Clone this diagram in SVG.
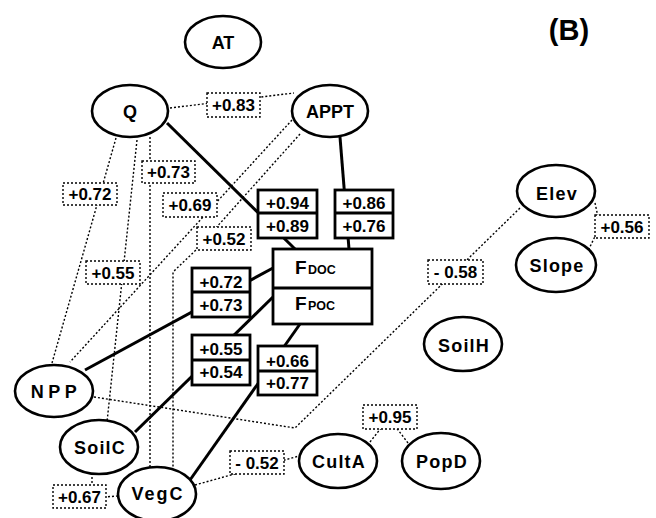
<svg xmlns="http://www.w3.org/2000/svg" width="656" height="518" viewBox="0 0 656 518">
<style>
.bg{fill:#fff}
.el{fill:#fff;stroke:#000;stroke-width:2.6}
.nt{font-family:"Liberation Sans",Arial,sans-serif;font-weight:bold;font-size:18px;text-anchor:middle;fill:#000}
.sol{stroke:#000;stroke-width:3;fill:none}
.dot{stroke:#000;stroke-width:1.4;stroke-dasharray:2 2;fill:none}
.lb{fill:#fff;stroke:#000;stroke-width:1.4;stroke-dasharray:2 2}
.bx{fill:#fff;stroke:#000;stroke-width:2.8}
.lt{font-family:"Liberation Sans",Arial,sans-serif;font-weight:bold;font-size:17px;text-anchor:middle;fill:#000}
.ft{font-family:"Liberation Sans",Arial,sans-serif;font-weight:bold;fill:#000}
</style>
<rect class="bg" x="0" y="0" width="656" height="518"/>
<text class="ft" x="569" y="40" font-size="29" text-anchor="middle">(B)</text>

<g id="connectors">
  <line class="dot" x1="170" y1="108" x2="294" y2="93"/>
  <line class="dot" x1="116" y1="138" x2="52" y2="363"/>
  <line class="dot" x1="137" y1="140" x2="107" y2="422"/>
  <line class="dot" x1="150" y1="137" x2="150" y2="468"/>
  <line class="dot" x1="292" y1="120" x2="70" y2="362"/>
  <polyline class="dot" points="300,134 197,249 173,272 173,468"/>
  <polyline class="dot" points="94,397 295,428 520,208"/>
  <polyline class="dot" points="595,203 600,226 587,253"/>
  <line class="dot" x1="195" y1="485" x2="299" y2="456"/>
  <polyline class="dot" points="370,442 389,418 408,443"/>
  <line class="dot" x1="92" y1="473" x2="92" y2="486"/>
  <line class="dot" x1="104" y1="497" x2="118" y2="496"/>
  <line class="sol" x1="167" y1="123" x2="295" y2="249"/>
  <line class="sol" x1="340" y1="137" x2="349" y2="249"/>
  <line class="sol" x1="85" y1="370" x2="273" y2="268"/>
  <line class="sol" x1="135" y1="432" x2="274" y2="296"/>
  <line class="sol" x1="190" y1="480" x2="300" y2="324"/>
</g>

<g id="edge-labels">
  <g id="l-q-appt"><rect class="lb" x="207" y="93" width="53" height="24"/><text class="lt" x="233.5" y="111">+0.83</text></g>
  <g id="l-q-npp"><rect class="lb" x="63" y="183" width="54" height="22"/><text class="lt" x="90" y="200">+0.72</text></g>
  <g id="l-q-vegc"><rect class="lb" x="142" y="161" width="53" height="22"/><text class="lt" x="168.5" y="178">+0.73</text></g>
  <g id="l-appt-npp"><rect class="lb" x="163" y="193" width="54" height="24"/><text class="lt" x="190" y="211">+0.69</text></g>
  <g id="l-appt-vegc"><rect class="lb" x="197" y="227" width="54" height="23"/><text class="lt" x="224" y="245">+0.52</text></g>
  <g id="l-q-soilc"><rect class="lb" x="86" y="261" width="54" height="23"/><text class="lt" x="113" y="279">+0.55</text></g>
  <g id="l-elev-slope"><rect class="lb" x="595" y="215" width="54" height="23"/><text class="lt" x="622" y="233">+0.56</text></g>
  <g id="l-npp-elev"><rect class="lb" x="428" y="260" width="55" height="24"/><text class="lt" x="455.5" y="278">- 0.58</text></g>
  <g id="l-culta-popd"><rect class="lb" x="363" y="405" width="54" height="24"/><text class="lt" x="390" y="423">+0.95</text></g>
  <g id="l-vegc-culta"><rect class="lb" x="230" y="451" width="54" height="23"/><text class="lt" x="257" y="469">- 0.52</text></g>
  <g id="l-soilc-vegc"><rect class="lb" x="53" y="485" width="53" height="23"/><text class="lt" x="79.5" y="503">+0.67</text></g>

  <g id="b-q"><rect class="bx" x="258" y="190" width="59" height="48"/><line class="bx" x1="258" y1="213" x2="317" y2="213"/><text class="lt" x="287.5" y="209">+0.94</text><text class="lt" x="287.5" y="232">+0.89</text></g>
  <g id="b-appt"><rect class="bx" x="335" y="190" width="58" height="48"/><line class="bx" x1="335" y1="213" x2="393" y2="213"/><text class="lt" x="364" y="209">+0.86</text><text class="lt" x="364" y="232">+0.76</text></g>
  <g id="b-npp"><rect class="bx" x="192" y="268" width="58" height="49"/><line class="bx" x1="192" y1="292" x2="250" y2="292"/><text class="lt" x="221" y="288">+0.72</text><text class="lt" x="221" y="311">+0.73</text></g>
  <g id="b-soilc"><rect class="bx" x="192" y="335" width="58" height="50"/><line class="bx" x1="192" y1="360" x2="250" y2="360"/><text class="lt" x="221" y="355">+0.55</text><text class="lt" x="221" y="378">+0.54</text></g>
  <g id="b-vegc"><rect class="bx" x="258" y="346" width="59" height="49"/><line class="bx" x1="258" y1="371" x2="317" y2="371"/><text class="lt" x="287.5" y="367">+0.66</text><text class="lt" x="287.5" y="389">+0.77</text></g>
</g>

<g id="node-F">
  <rect class="bx" x="273" y="249" width="99" height="75"/>
  <line class="bx" x1="273" y1="288" x2="372" y2="288"/>
  <text class="ft" x="295" y="274" font-size="19">F<tspan x="308" font-size="12.5">DOC</tspan></text>
  <text class="ft" x="295" y="310" font-size="19">F<tspan x="308" font-size="12.5">POC</tspan></text>
</g>

<g id="node-AT"><ellipse class="el" cx="223" cy="42" rx="38" ry="26"/><text class="nt" x="223" y="49">AT</text></g>
<g id="node-Q"><ellipse class="el" cx="130" cy="111" rx="38" ry="26"/><text class="nt" x="130" y="118">Q</text></g>
<g id="node-APPT"><ellipse class="el" cx="330" cy="111" rx="38" ry="26"/><text class="nt" x="330" y="118">APPT</text></g>
<g id="node-Elev"><ellipse class="el" cx="556" cy="191" rx="39" ry="26"/><text class="nt" x="557" y="200" letter-spacing="1.2">Elev</text></g>
<g id="node-Slope"><ellipse class="el" cx="556" cy="265" rx="40" ry="27"/><text class="nt" x="557" y="272" letter-spacing="1.2">Slope</text></g>
<g id="node-SoilH"><ellipse class="el" cx="463" cy="344" rx="39" ry="27"/><text class="nt" x="464" y="352" letter-spacing="1.2">SoilH</text></g>
<g id="node-NPP"><ellipse class="el" cx="54" cy="391" rx="39" ry="26"/><text class="nt" x="56" y="398" letter-spacing="4.5">NPP</text></g>
<g id="node-SoilC"><ellipse class="el" cx="99" cy="447" rx="39" ry="27"/><text class="nt" x="100" y="454" letter-spacing="1.2">SoilC</text></g>
<g id="node-VegC"><ellipse class="el" cx="157" cy="494" rx="39" ry="27"/><text class="nt" x="158" y="500" letter-spacing="2">VegC</text></g>
<g id="node-CultA"><ellipse class="el" cx="338" cy="461" rx="39" ry="27"/><text class="nt" x="339" y="468" letter-spacing="1.2">CultA</text></g>
<g id="node-PopD"><ellipse class="el" cx="441" cy="461" rx="39" ry="28"/><text class="nt" x="442" y="468" letter-spacing="1.2">PopD</text></g>
</svg>
